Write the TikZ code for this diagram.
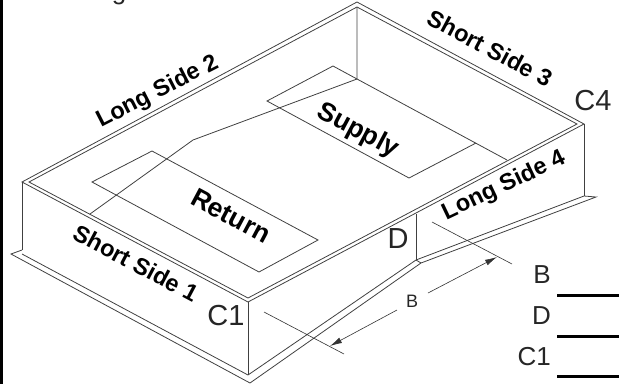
\documentclass[tikz,border=0pt]{standalone}
\usepackage{fontspec}
\setmainfont{Liberation Sans}
\usetikzlibrary{arrows.meta}
\tikzset{
  edgeline/.style={line width=.8pt,color=black!75},
  dimline/.style={line width=.6pt,color=black!80},
  dimarrow/.style={dimline,-{Latex[length=12pt,width=6pt]}},
  sidelabel/.style={font=\bfseries\fontsize{23.5}{24}\selectfont,inner sep=0pt},
  ductlabel/.style={font=\bfseries\fontsize{26.5}{27}\selectfont,inner sep=0pt},
  biglabel/.style={font=\fontsize{29}{29}\selectfont,inner sep=0pt,color=black!85},
  rowlabel/.style={font=\fontsize{26}{26}\selectfont,inner sep=0pt,color=black!85},
}
\begin{document}
\begin{tikzpicture}[x=1pt,y=-1pt]
  \def\barthickness{3pt}
  \useasboundingbox (0,0) rectangle (619,384);

  \fill[black] (0,0) rectangle (3,384);
  \begin{scope}
    \clip (0,0) rectangle (619,384);
    \node[rowlabel,anchor=base] (cut text) at (119,-1) {g};
  \end{scope}

  % rim
  \coordinate (left out) at (22,182);
  \coordinate (top out) at (357,2);
  \coordinate (right out) at (584,124);
  \coordinate (front out) at (248,302);
  \coordinate (left in) at (29,182);
  \coordinate (top in) at (357,7);
  \coordinate (right in) at (577,124);
  \coordinate (front in) at (248,298);
  \draw[edgeline] (left out) -- (top out) -- (right out) -- (front out) -- cycle;
  \draw[edgeline] (left in) -- (top in) -- (right in) -- (front in) -- cycle;

  % walls
  \coordinate (back floor) at (357,79);
  \coordinate (left foot) at (22,250);
  \coordinate (front foot) at (248,375);
  \coordinate (right foot) at (584,196);
  \coordinate (step in) at (416,260);
  \coordinate (step top) at (416,214);
  \draw[edgeline] (top in) -- (back floor) -- (507,160);
  \draw[edgeline] (left out) -- (left foot);
  \draw[edgeline] (front out) -- (front foot);
  \draw[edgeline] (right out) -- (right foot);
  \draw[edgeline] (step top) -- (step in);

  % flange
  \draw[edgeline] (left foot) -- (11,254) -- (250,383) -- (421,263) -- (596,197) -- (right foot);
  \draw[edgeline] (22,254) -- (front foot) -- (step in) -- (right foot);
  \draw[edgeline] (step in) -- (421,263);

  % ducts
  \draw[edgeline] (back floor) -- (333,66) -- (267,101) -- (409,178) -- (476,143);
  \draw[edgeline] (back floor) -- (193,140) -- (90,214);
  \draw[edgeline] (92,182) -- (152,151) -- (318,240) -- (259,272) -- cycle;

  % texts
  \node[sidelabel,rotate=27] (long side 2) at (158,92) {Long Side 2};
  \node[sidelabel,rotate=-28] (short side 3) at (490,48) {Short Side 3};
  \node[sidelabel,rotate=-28] (short side 1) at (136,263) {Short Side 1};
  \node[sidelabel,rotate=25.5] (long side 4) at (504,186) {Long Side 4};
  \node[ductlabel,rotate=-28] (supply) at (358,131) {Supply};
  \node[ductlabel,rotate=-28] (return) at (231,216) {Return};
  \node[biglabel] (c four) at (593,101) {C4};
  \node[biglabel] (c one) at (226,316) {C1};
  \node[biglabel] (d side) at (398,239) {D};

  % dimension
  \coordinate (ext a) at (264,312);
  \coordinate (ext b) at (344,354);
  \coordinate (ext c) at (432,222);
  \coordinate (ext d) at (512,264);
  \draw[dimline] (ext a) -- (ext b);
  \draw[dimline] (ext c) -- (ext d);
  \node[font=\fontsize{18}{18}\selectfont,inner sep=0pt,color=black!85] (dim b) at (412,301) {B};
  \draw[dimarrow] (397,310) -- (330,346);
  \draw[dimarrow] (428,293) -- (497,257);

  % table
  \foreach \name/\txt/\ypos/\ybar in {b/B/275/295.5,d/D/316/336,c/C1/357/376}
  {
    \node[rowlabel,anchor=east] (row \name) at (551,\ypos) {\txt};
    \draw[line width=\barthickness] (557,\ybar) -- (619,\ybar);
  }
\end{tikzpicture}
\end{document}
